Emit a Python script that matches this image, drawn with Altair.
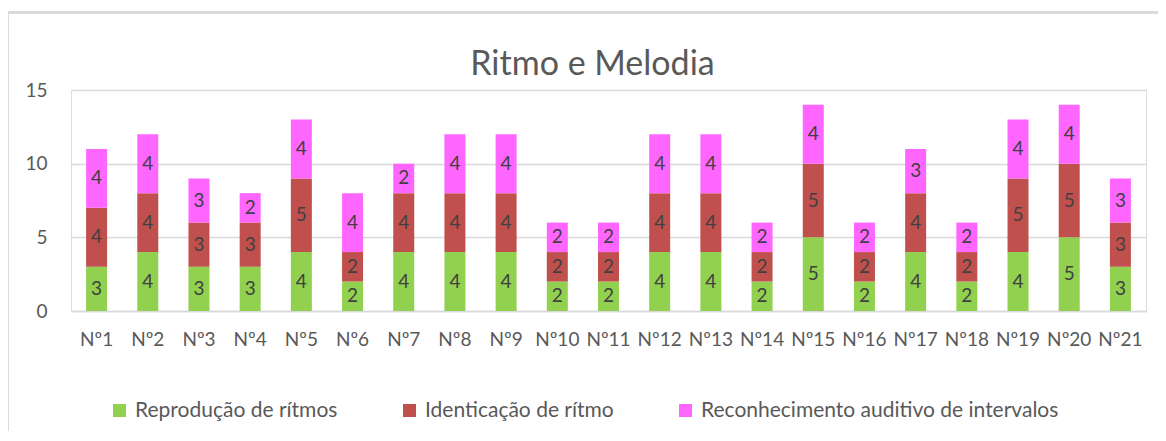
import altair as alt
import pandas as pd

categories = [f"Nº{i}" for i in range(1, 22)]
series_names = ["Reprodução de rítmos", "Identicação de rítmo", "Reconhecimento auditivo de intervalos"]
reproducao = [3, 4, 3, 3, 4, 2, 4, 4, 4, 2, 2, 4, 4, 2, 5, 2, 4, 2, 4, 5, 3]
identicacao = [4, 4, 3, 3, 5, 2, 4, 4, 4, 2, 2, 4, 4, 2, 5, 2, 4, 2, 5, 5, 3]
reconhecimento = [4, 4, 3, 2, 4, 4, 2, 4, 4, 2, 2, 4, 4, 2, 4, 2, 3, 2, 4, 4, 3]
colors = ["#92d050", "#c0504d", "#ff66ff"]

rows = []
for s_idx, (name, vals) in enumerate(zip(series_names, [reproducao, identicacao, reconhecimento])):
    for c, v in zip(categories, vals):
        rows.append({"cat": c, "serie": name, "ord": s_idx, "val": v})
df = pd.DataFrame(rows)

FONT = "Lato"
TXT = "#595959"

yscale = alt.Scale(domain=[0, 15], nice=False, zero=True)

base = alt.Chart(df).transform_stack(
    stack="val", groupby=["cat"], as_=["y0", "y1"], sort=[alt.SortField("ord", order="ascending")]
).transform_calculate(mid="(datum.y0 + datum.y1) / 2")

x_enc = alt.X("cat:N", sort=categories, title=None,
              scale=alt.Scale(paddingInner=0, paddingOuter=0),
              axis=alt.Axis(labelAngle=0, labelOverlap=False, labelFont=FONT, labelFontSize=19,
                            labelColor=TXT, labelPadding=19, ticks=False, domainColor="#d9d9d9",
                            domainWidth=1.5, grid=False))

bars = base.mark_bar(size=21).encode(
    x=x_enc,
    y=alt.Y("y0:Q", title=None, scale=yscale,
            axis=alt.Axis(values=[0, 5, 10, 15], labelFont=FONT, labelFontSize=19, labelColor=TXT,
                          labelPadding=24, ticks=False, domain=False, gridColor="#d9d9d9",
                          gridWidth=1.5)),
    y2="y1:Q",
    color=alt.Color("serie:N", sort=series_names,
                    scale=alt.Scale(domain=series_names, range=colors),
                    legend=alt.Legend(title=None, orient="none", legendX=38, legendY=310,
                                      direction="horizontal", symbolType="square", symbolSize=170,
                                      symbolStrokeWidth=0, labelFont=FONT, labelFontSize=21,
                                      labelColor=TXT, columnPadding=61, labelOffset=5,
                                      labelLimit=0, gridAlign="none")),
)

labels = base.mark_text(font=FONT, fontSize=19, color="#404040", baseline="middle").encode(
    x=alt.X("cat:N", sort=categories),
    y=alt.Y("mid:Q", scale=yscale),
    text="val:Q",
)

frame_left = alt.Chart(df).mark_rule(color="#d9d9d9", strokeWidth=1.5).encode(
    x=alt.value(-63.5), y=alt.value(-77.5), y2=alt.value(400))
frame_top = alt.Chart(df).mark_rule(color="#d9d9d9", strokeWidth=1.5).encode(
    x=alt.value(-63.5), x2=alt.value(1100), y=alt.value(-77.5))

chart = alt.layer(frame_left, frame_top, bars, labels).properties(
    width=1075, height=221,
    title=alt.TitleParams("Ritmo e Melodia", font=FONT, fontSize=34, fontWeight="normal",
                          color=TXT, anchor="middle", dx=-16, offset=13, dy=83, frame="group"),
    autosize=alt.AutoSizeParams(type="none"),
    padding={"left": 63, "top": 82, "right": 12, "bottom": 120},
).configure_view(stroke=None).configure(background="white")

chart.save("out.html", embed_options={"renderer": "svg", "actions": False})
